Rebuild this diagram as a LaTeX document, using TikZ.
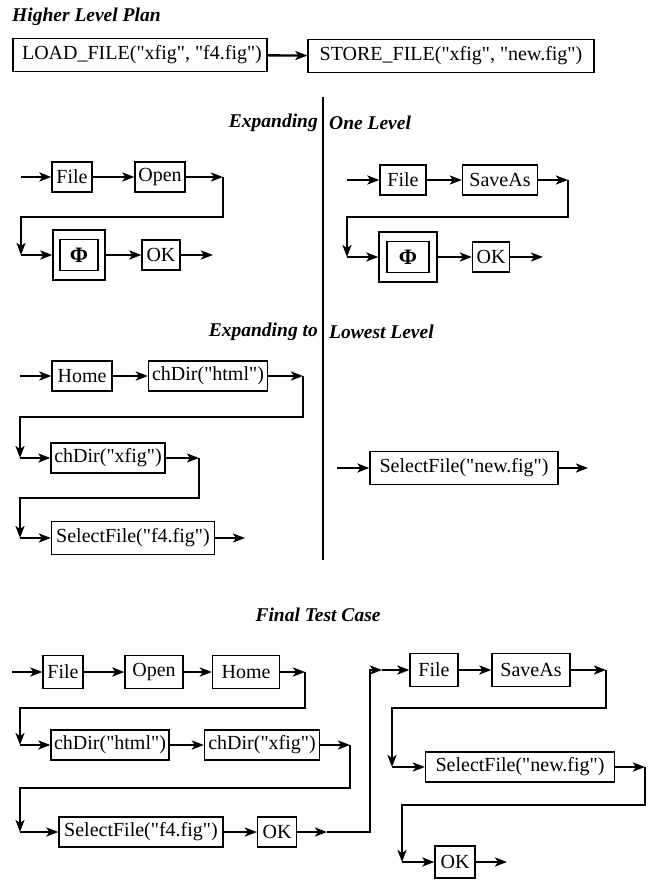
\documentclass[tikz,border=0pt]{standalone}
\usepackage{fontspec}
\setmainfont{Liberation Serif}[Ligatures=TeXOff]
\usetikzlibrary{arrows.meta}

\begin{document}
\begin{tikzpicture}[x=1pt, y=-1pt,
    box/.style={draw, line width=1.3pt, minimum height=30pt, inner sep=1pt,
                font=\fontsize{20}{22}\selectfont},
    conn/.style={line width=2.4pt},
    arr/.style={conn, -{Stealth[length=12pt, width=9pt, inset=3pt]}},
    heading/.style={inner sep=0pt, font=\fontsize{19.5}{22}\selectfont\bfseries\itshape}]
    \useasboundingbox (0,0) rectangle (654,880);

    % Higher level plan
    \node[heading, anchor=west] (hlp) at (12,17) {Higher Level Plan};
    \node[box, minimum width=254pt, minimum height=33pt] (load) at (140,55) {\hspace{4pt}LOAD\_FILE("xfig", "f4.fig")};
    \node[box, minimum width=286pt, minimum height=33pt] (store) at (451,56) {STORE\_FILE("xfig", "new.fig")};
    \draw[arr] (load) -- (store);

    % Divider
    \coordinate (vtop) at (323,97);
    \coordinate (vbot) at (323,560);
    \draw[line width=1.6pt] (vtop) -- (vbot);

    % Expanding one level
    \node[heading, anchor=east] (exp1a) at (318,123) {Expanding};
    \node[heading, anchor=west] (exp1b) at (329,123) {One Level};

    % left: LOAD_FILE
    \coordinate (in1) at (21,177);
    \node[box, minimum width=40pt] (file1) at (72,177) {File};
    \node[box, minimum width=50pt] (open1) at (160,177) {Open};
    \coordinate (c1) at (223,177);
    \coordinate (d1) at (21,255);
    \node[box, minimum width=52pt, minimum height=50pt] (phi1) at (79,255) {};
    \node[box, minimum width=38pt, minimum height=31pt, font=\fontsize{22}{24}\selectfont\bfseries] (phiin1) at (phi1) {Φ};
    \node[box, minimum width=38pt] (ok1) at (161,255) {OK};
    \coordinate (out1) at (213,255);
    \draw[arr] (in1) -- (file1);
    \draw[arr] (file1) -- (open1);
    \draw[arr] (open1) -- (c1);
    \draw[arr] (c1) -- ++(0,40) -| (d1);
    \draw[arr] (d1) -- (phi1);
    \draw[arr] (phi1) -- (ok1);
    \draw[arr] (ok1) -- (out1);

    % right: STORE_FILE
    \coordinate (in2) at (347,180);
    \node[box, minimum width=46pt] (file2) at (403,180) {File};
    \node[box, minimum width=75pt] (saveas2) at (500,180) {SaveAs};
    \coordinate (c2) at (568,180);
    \coordinate (d2) at (347,257);
    \node[box, minimum width=58pt, minimum height=50pt] (phi2) at (408,257) {};
    \node[box, minimum width=42pt, minimum height=31pt, font=\fontsize{22}{24}\selectfont\bfseries] (phiin2) at (phi2) {Φ};
    \node[box, minimum width=37pt] (ok2) at (491,257) {OK};
    \coordinate (out2) at (543,257);
    \draw[arr] (in2) -- (file2);
    \draw[arr] (file2) -- (saveas2);
    \draw[arr] (saveas2) -- (c2);
    \draw[arr] (c2) -- ++(0,37) -| (d2);
    \draw[arr] (d2) -- (phi2);
    \draw[arr] (phi2) -- (ok2);
    \draw[arr] (ok2) -- (out2);

    % Expanding to lowest level
    \node[heading, anchor=east] (exp2a) at (318,332) {Expanding to};
    \node[heading, anchor=west] (exp2b) at (329,332) {Lowest Level};

    % left: the Phi of LOAD_FILE
    \coordinate (in3) at (20,376);
    \node[box, minimum width=60pt] (home3) at (82,376) {Home};
    \node[box, minimum width=119pt] (html3) at (208,376) {chDir("html")};
    \coordinate (c3) at (303,376);
    \coordinate (d3) at (20,458);
    \node[box, minimum width=114pt] (xfig3) at (108,458) {chDir("xfig")};
    \coordinate (c3b) at (199,458);
    \coordinate (d3b) at (20,538);
    \node[box, minimum width=163pt, minimum height=33pt] (sel3) at (133,538) {SelectFile("f4.fig")};
    \coordinate (out3) at (245,538);
    \draw[arr] (in3) -- (home3);
    \draw[arr] (home3) -- (html3);
    \draw[arr] (html3) -- (c3);
    \draw[arr] (c3) -- ++(0,41) -| (d3);
    \draw[arr] (d3) -- (xfig3);
    \draw[arr] (xfig3) -- (c3b);
    \draw[arr] (c3b) -- ++(0,40) -| (d3b);
    \draw[arr] (d3b) -- (sel3);
    \draw[arr] (sel3) -- (out3);

    % right: the Phi of STORE_FILE
    \coordinate (in4) at (337,468);
    \node[box, minimum width=188pt, minimum height=33pt] (sel4) at (464,468) {SelectFile("new.fig")};
    \coordinate (out4) at (588,468);
    \draw[arr] (in4) -- (sel4);
    \draw[arr] (sel4) -- (out4);

    % Final test case
    \node[heading] (ftc) at (318,615) {Final Test Case};

    % row 1
    \coordinate (in5) at (12,672);
    \node[box, minimum width=40pt, minimum height=33pt] (file5) at (63,672) {File};
    \node[box, minimum width=58pt, minimum height=33pt] (open5) at (154,672) {Open};
    \node[box, minimum width=67pt, minimum height=33pt] (home5) at (246,672) {Home};
    \coordinate (c5) at (305,672);
    \coordinate (d5) at (20,745);
    \draw[arr] (in5) -- (file5);
    \draw[arr] (file5) -- (open5);
    \draw[arr] (open5) -- (home5);
    \draw[arr] (home5) -- (c5);
    \draw[arr] (c5) -- ++(0,36) -| (d5);

    % row 2
    \node[box, minimum width=118pt] (html5) at (110,745) {chDir("html")};
    \node[box, minimum width=115pt] (xfig5) at (262,745) {chDir("xfig")};
    \coordinate (c5b) at (350,745);
    \coordinate (d5b) at (20,832);
    \draw[arr] (d5) -- (html5);
    \draw[arr] (html5) -- (xfig5);
    \draw[arr] (xfig5) -- (c5b);
    \draw[arr] (c5b) -- ++(0,43) -| (d5b);

    % row 3
    \node[box, minimum width=164pt] (sel5) at (141,832) {SelectFile("f4.fig")};
    \node[box, minimum width=39pt] (ok5) at (277,832) {OK};
    \coordinate (e5) at (327,832);
    \coordinate (g5) at (382,670);
    \draw[arr] (d5b) -- (sel5);
    \draw[arr] (sel5) -- (ok5);
    \draw[arr] (ok5) -- (e5);
    \draw[arr] (e5) -- ++(43,0) |- (g5);

    % second half
    \node[box, minimum width=48pt, minimum height=33pt] (file6) at (434,670) {File};
    \node[box, minimum width=78pt, minimum height=33pt] (saveas6) at (531,670) {SaveAs};
    \coordinate (c6) at (606,670);
    \coordinate (d6) at (392,767);
    \node[box, minimum width=189pt] (sel6) at (520,767) {SelectFile("new.fig")};
    \coordinate (c6b) at (645,767);
    \coordinate (d6b) at (402,862);
    \node[box, minimum width=40pt, minimum height=32pt] (ok6) at (455,862) {OK};
    \coordinate (out6) at (507,862);
    \draw[arr] (g5) -- (file6);
    \draw[arr] (file6) -- (saveas6);
    \draw[arr] (saveas6) -- (c6);
    \draw[arr] (c6) -- ++(0,38) -| (d6);
    \draw[arr] (d6) -- (sel6);
    \draw[arr] (sel6) -- (c6b);
    \draw[arr] (c6b) -- ++(0,38) -| (d6b);
    \draw[arr] (d6b) -- (ok6);
    \draw[arr] (ok6) -- (out6);
\end{tikzpicture}
\end{document}
